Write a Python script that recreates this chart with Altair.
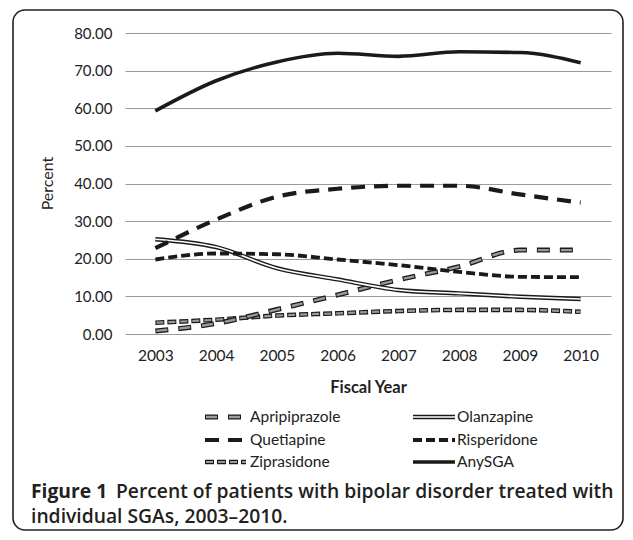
import altair as alt
import pandas as pd

years = ["2003", "2004", "2005", "2006", "2007", "2008", "2009", "2010"]
series_names = ["Apripiprazole", "Olanzapine", "Quetiapine", "Risperidone", "Ziprasidone", "AnySGA"]
apripiprazole = [0.8, 2.8, 6.5, 10.4, 14.4, 17.9, 22.3, 22.3]
olanzapine = [25.2, 23.1, 17.5, 14.5, 11.7, 10.8, 9.9, 9.3]
quetiapine = [22.8, 30.4, 36.5, 38.6, 39.4, 39.4, 37.1, 34.9]
risperidone = [19.8, 21.4, 21.2, 19.8, 18.3, 16.5, 15.2, 15.1]
ziprasidone = [3.0, 3.8, 4.9, 5.5, 6.1, 6.4, 6.4, 5.9]
any_sga = [59.3, 67.3, 72.3, 74.6, 73.8, 75.0, 74.8, 72.1]
y_ticks = [0, 10, 20, 30, 40, 50, 60, 70, 80]

values = [apripiprazole, olanzapine, quetiapine, risperidone, ziprasidone, any_sga]
rows = []
for name, vals in zip(series_names, values):
    for yr, v in zip(years, vals):
        rows.append({"year": yr, "series": name, "value": v})
df = pd.DataFrame(rows)

FONT = "Lato"
CAP_FONT = "Open Sans"
BLACK = "#1a1a1a"
GRAY = "#9a9a9a"

x_enc = alt.X("year:O", sort=years,
              scale=alt.Scale(type="point", padding=0.5),
              axis=alt.Axis(title="Fiscal Year", labelAngle=0, labelPadding=21,
                            labelBaseline="middle", ticks=False, domain=False,
                            grid=False, titleY=53, titleBaseline="middle",
                            titleFontWeight="bold", titleFontSize=16.5,
                            labelFontSize=15.5))
y_enc = alt.Y("value:Q",
              scale=alt.Scale(domain=[0, 80], nice=False, zero=True),
              axis=alt.Axis(title="Percent", values=y_ticks, format=".2f",
                            labelPadding=13, ticks=False, domain=False,
                            grid=True, gridColor=GRAY, gridWidth=1.2,
                            titleX=-78, titleY=150, titleAngle=270,
                            titleBaseline="middle", titleFontWeight="normal",
                            titleFontSize=16))

base = alt.Chart(df)


def series_layer(name, **mark_kw):
    return base.transform_filter(alt.datum.series == name).mark_line(
        interpolate="monotone", **mark_kw).encode(x=x_enc, y=y_enc)


layers = []
# Ziprasidone: short outlined grey dashes
layers.append(series_layer("Ziprasidone", color=BLACK, strokeWidth=4.6,
                           strokeDash=[9, 3], strokeCap="butt"))
layers.append(series_layer("Ziprasidone", color=GRAY, strokeWidth=2.2,
                           strokeDash=[7, 5], strokeDashOffset=-1, strokeCap="butt"))
# Apripiprazole: long outlined grey dashes
layers.append(series_layer("Apripiprazole", color=BLACK, strokeWidth=5,
                           strokeDash=[13, 10], strokeCap="butt"))
layers.append(series_layer("Apripiprazole", color=GRAY, strokeWidth=2.4,
                           strokeDash=[11, 12], strokeDashOffset=-1, strokeCap="butt"))
# Olanzapine: double line
layers.append(series_layer("Olanzapine", color=BLACK, strokeWidth=4.4))
layers.append(series_layer("Olanzapine", color="white", strokeWidth=1.6))
# Risperidone: short black dashes
layers.append(series_layer("Risperidone", color=BLACK, strokeWidth=3.8,
                           strokeDash=[9, 4], strokeCap="butt"))
# Quetiapine: long black dashes
layers.append(series_layer("Quetiapine", color=BLACK, strokeWidth=4.2,
                           strokeDash=[14, 9], strokeCap="butt"))
# AnySGA: solid
layers.append(series_layer("AnySGA", color=BLACK, strokeWidth=3.6))

# ---- legend (manual, to reproduce the composite line styles) ----
legend_rows_y = [384, 407, 429]
col_x = [(80, 121, 125), (288, 330, 332)]
legend_styles = {
    "Apripiprazole": [dict(color=BLACK, strokeWidth=5, strokeDash=[13, 10], strokeCap="butt"),
                      dict(color=GRAY, strokeWidth=2.4, strokeDash=[11, 12], strokeDashOffset=-1, strokeCap="butt")],
    "Olanzapine": [dict(color=BLACK, strokeWidth=4.4), dict(color="white", strokeWidth=1.6)],
    "Quetiapine": [dict(color=BLACK, strokeWidth=4.2, strokeDash=[14, 9], strokeCap="butt")],
    "Risperidone": [dict(color=BLACK, strokeWidth=3.8, strokeDash=[9, 4], strokeCap="butt")],
    "Ziprasidone": [dict(color=BLACK, strokeWidth=4.6, strokeDash=[9, 3], strokeCap="butt"),
                    dict(color=GRAY, strokeWidth=2.2, strokeDash=[7, 5], strokeDashOffset=-1, strokeCap="butt")],
    "AnySGA": [dict(color=BLACK, strokeWidth=3.6)],
}
anchor = alt.Chart(pd.DataFrame({"a": [0]}))
for i, name in enumerate(series_names):
    row, col = divmod(i, 2)
    x0, x1, tx = col_x[col]
    yy = legend_rows_y[row]
    for st in legend_styles[name]:
        layers.append(anchor.mark_rule(**st).encode(
            x=alt.value(x0), x2=alt.value(x1), y=alt.value(yy)))
    layers.append(anchor.mark_text(align="left", baseline="middle", font=FONT,
                                   fontSize=15.5, color="#222222").encode(
        x=alt.value(tx), y=alt.value(yy), text=alt.value(name)))

# ---- caption ----
caption_bold = "Figure 1"
caption_line1 = "Percent of patients with bipolar disorder treated with"
caption_line2 = "individual SGAs, 2003\u20132010."
CAP_SIZE = 19.3
layers.append(anchor.mark_text(align="left", baseline="middle", font=CAP_FONT,
                               fontSize=CAP_SIZE, fontWeight="bold", color="#231f20").encode(
    x=alt.value(-94), y=alt.value(459), text=alt.value(caption_bold)))
layers.append(anchor.mark_text(align="left", baseline="middle", font=CAP_FONT,
                               fontSize=CAP_SIZE, fontWeight=600, color="#231f20").encode(
    x=alt.value(-9), y=alt.value(459), text=alt.value(caption_line1)))
layers.append(anchor.mark_text(align="left", baseline="middle", font=CAP_FONT,
                               fontSize=CAP_SIZE, fontWeight=600, color="#231f20").encode(
    x=alt.value(-94), y=alt.value(484), text=alt.value(caption_line2)))

# ---- rounded frame ----
frame = anchor.mark_rect(filled=False, stroke="#231f20", strokeWidth=1.6,
                         cornerRadius=12).encode(
    x=alt.value(-112), x2=alt.value(498), y=alt.value(-23), y2=alt.value(497))

chart = alt.layer(frame, *layers).properties(
    width=486, height=301,
    autosize=alt.AutoSizeParams(type="none"),
    padding={"left": 117, "top": 25, "right": 14, "bottom": 197},
    background="white",
).configure_view(strokeWidth=0).configure_axis(
    labelFont=FONT, titleFont=FONT, labelFontSize=15, labelColor="#222222",
    titleColor="#222222",
)

chart.save("out.html", embed_options={"renderer": "svg", "actions": False})
